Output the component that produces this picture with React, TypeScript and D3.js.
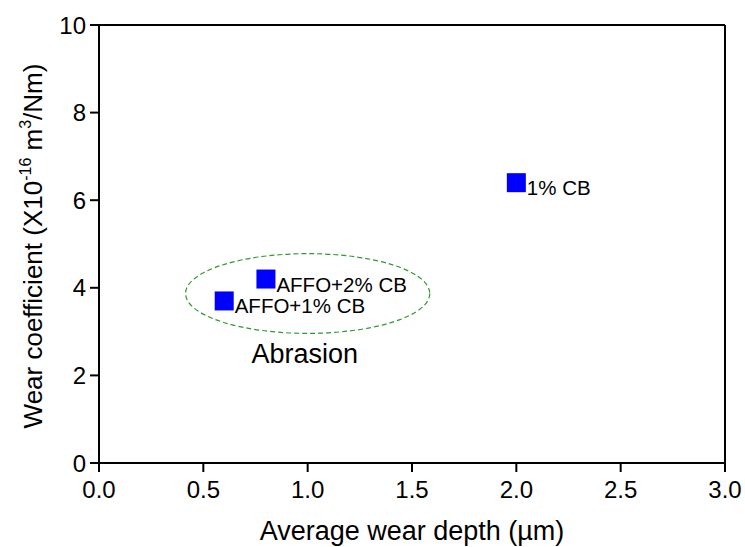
import React from 'react';
import * as d3 from 'd3';

const sampleNames = ['AFFO+1% CB', 'AFFO+2% CB', '1% CB'];
const wearDepth = [0.6, 0.8, 2.0];
const wearCoeff = [3.7, 4.2, 6.4];
const xTicks = [0, 0.5, 1.0, 1.5, 2.0, 2.5, 3.0];
const yTicks = [0, 2, 4, 6, 8, 10];
// group outline (centre and radii in data units)
const groupCentre = [1.0, 3.87];
const groupRadii = [0.585, 0.91];
const groupName = 'Abrasion';

const W = 745, H = 547;
const margin = { top: 25, right: 20, bottom: 84, left: 99 };
const font = 'Arial, "Liberation Sans", sans-serif';

export default function App() {
  const x = d3.scaleLinear().domain([0, 3]).range([margin.left, W - margin.right]);
  const y = d3.scaleLinear().domain([0, 10]).range([H - margin.bottom, margin.top]);
  const x0 = x(0), x1 = x(3), y0 = y(0), y1 = y(10);
  const sq = 19;

  return (
    <svg width={W} height={H} style={{ position: 'absolute', left: 0, top: 0, background: '#fff' }}
      fontFamily={font}>
      {/* frame */}
      <line x1={x0} y1={y1} x2={x1} y2={y1} stroke="#000" strokeWidth={2} />
      <line x1={x1} y1={y1} x2={x1} y2={y0} stroke="#000" strokeWidth={2} />
      <line x1={x0} y1={y0} x2={x1} y2={y0} stroke="#000" strokeWidth={2} />
      <line x1={x0} y1={y1} x2={x0} y2={y0} stroke="#000" strokeWidth={2} />

      {/* x ticks */}
      {xTicks.map(t => (
        <g key={'x' + t}>
          <line x1={x(t)} x2={x(t)} y1={y0} y2={y0 + 9} stroke="#000" strokeWidth={2} />
          <text x={x(t)} y={y0 + 35} fontSize={24} textAnchor="middle">{t.toFixed(1)}</text>
        </g>
      ))}
      {/* y ticks */}
      {yTicks.map(t => (
        <g key={'y' + t}>
          <line x1={x0 - 9} x2={x0} y1={y(t)} y2={y(t)} stroke="#000" strokeWidth={2} />
          <text x={x0 - 13} y={y(t) + 8.5} fontSize={24} textAnchor="end">{t}</text>
        </g>
      ))}

      {/* axis titles */}
      <text x={(x0 + x1) / 2} y={540} fontSize={27} textAnchor="middle">Average wear depth (µm)</text>
      <text transform={`translate(42,${(y0 + y1) / 2 + 2}) rotate(-90)`} fontSize={26} textAnchor="middle">
        Wear coefficient (X10<tspan fontSize={16} dy={-11}>-16</tspan>
        <tspan dy={11}> m</tspan><tspan fontSize={16} dy={-11}>3</tspan>
        <tspan dy={11}>/Nm)</tspan>
      </text>

      {/* abrasion group */}
      <ellipse cx={x(groupCentre[0])} cy={y(groupCentre[1])}
        rx={x(groupRadii[0]) - x(0)} ry={y(0) - y(groupRadii[1])}
        fill="none" stroke="#2e9a2e" strokeWidth={1.2} strokeDasharray="5,3" />
      <text x={x(groupCentre[0]) - 3} y={363} fontSize={27} textAnchor="middle">{groupName}</text>

      {/* points */}
      {sampleNames.map((n, i) => (
        <g key={n}>
          <rect x={x(wearDepth[i]) - sq / 2} y={y(wearCoeff[i]) - sq / 2} width={sq} height={sq} fill="#0000ff" />
          <text x={x(wearDepth[i]) + 10.5} y={y(wearCoeff[i]) + 12.5} fontSize={20.5}>{n}</text>
        </g>
      ))}
    </svg>
  );
}
